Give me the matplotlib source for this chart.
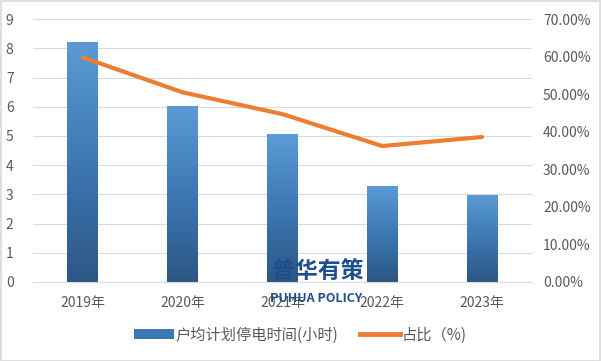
import numpy as np
import matplotlib
matplotlib.use("Agg")
import matplotlib.pyplot as plt
from matplotlib.colors import LinearSegmentedColormap
from matplotlib.patches import Rectangle
from matplotlib.ticker import FuncFormatter

plt.rcParams['font.family'] = ['Noto Sans CJK SC', 'DejaVu Sans']

# data
years = ["2019年", "2020年", "2021年", "2022年", "2023年"]
hours = [8.22, 6.03, 5.05, 3.29, 2.98]
share = [59.8, 50.5, 44.7, 36.2, 38.6]

bar_label = "户均计划停电时间(小时)"
line_label = "占比（%)"

grey = "#595959"
grid_c = "#d9d9d9"
orange = "#ED7D31"
blue_cmap = LinearSegmentedColormap.from_list("bb", ["#2c5783", "#3d78b5", "#5b9bd5"])

fig = plt.figure(figsize=(6.01, 3.61), dpi=100)
ax = fig.add_axes([0.055, 0.219, 0.83, 0.728])
x = np.arange(len(years))

bars = ax.bar(x, hours, width=0.31, color="none", zorder=2)
grad = np.linspace(0, 1, 256).reshape(-1, 1)
for b in bars:
    bx, by = b.get_x(), b.get_y()
    w, h = b.get_width(), b.get_height()
    im = ax.imshow(grad, cmap=blue_cmap, aspect="auto", origin="lower",
                   extent=[bx, bx + w, 0, h], zorder=2)
    im.set_clip_path(b)

ax.set_xlim(-0.5, 4.5)
ax.set_ylim(0, 9)
ax.set_yticks(range(0, 10))
ax.set_xticks(x)
ax.set_xticklabels(years)
ax.grid(axis="y", color=grid_c, linewidth=0.8, zorder=0)
ax.set_axisbelow(True)
for s in ["top", "right", "left"]:
    ax.spines[s].set_visible(False)
ax.spines["bottom"].set_color(grid_c)
ax.tick_params(length=0, colors=grey, labelsize=10)
ax.tick_params(axis="x", pad=10)
ax.tick_params(axis="y", pad=14)

ax2 = ax.twinx()
ax2.plot(x, share, color=orange, linewidth=3, solid_capstyle="round", zorder=3)
ax2.set_ylim(0, 70)
ax2.set_yticks(range(0, 80, 10))
ax2.yaxis.set_major_formatter(FuncFormatter(lambda v, p: f"{v:.2f}%"))
ax2.tick_params(length=0, colors=grey, labelsize=10, pad=8)
for s in ax2.spines.values():
    s.set_visible(False)

# legend
h1 = Rectangle((0, 0), 1, 1, facecolor="#3d78b5")
h2, = ax.plot([], [], color=orange, linewidth=3.5)
fig.legend([h1, h2], [bar_label, line_label], loc="center", bbox_to_anchor=(0.5, 0.072),
           ncol=2, frameon=False, fontsize=11, labelcolor=grey, handlelength=2.6,
           handleheight=0.6, columnspacing=1.4, handletextpad=0.15)

# watermark
fig.text(0.529, 0.249, "普华有策", color="#1f4e8c", fontsize=16.5, fontweight="bold",
         ha="center", va="center", zorder=5)
fig.text(0.526, 0.172, "PUHUA POLICY", color="#1f4e8c", fontsize=9, fontweight="bold",
         ha="center", va="center", zorder=5)

fig.patches.append(Rectangle((0.001, 0.001), 0.997, 0.996, transform=fig.transFigure,
                             fill=False, edgecolor="#d9d9d9", linewidth=1.2))

fig.savefig("out.png", dpi=100)
